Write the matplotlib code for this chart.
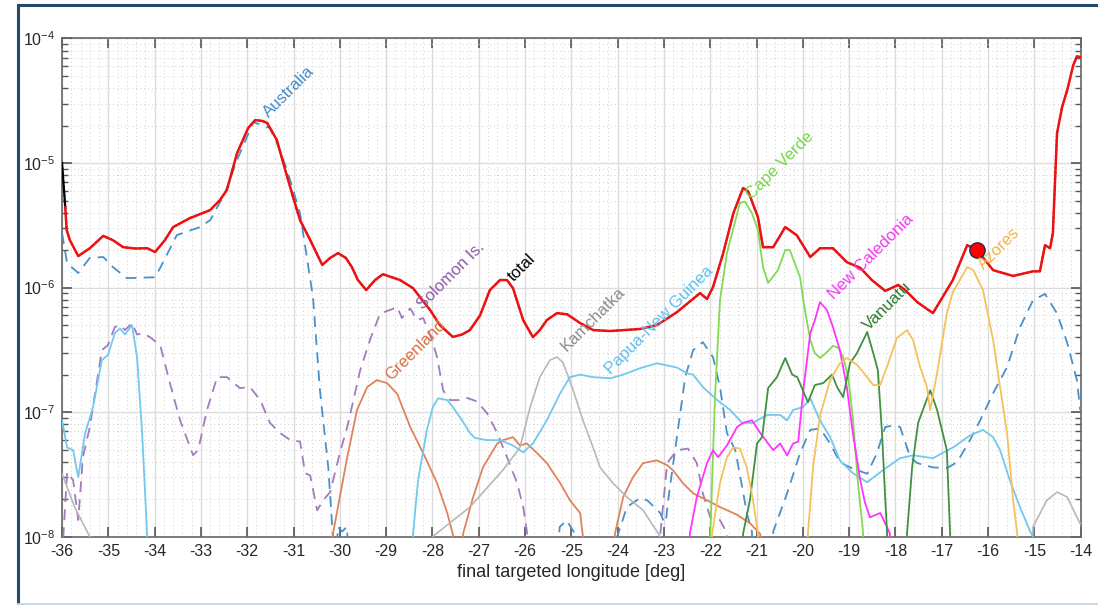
import matplotlib
matplotlib.use("Agg")
import matplotlib.pyplot as plt
from matplotlib.lines import Line2D
from matplotlib.ticker import LogLocator, MultipleLocator, NullFormatter

plt.rcParams['font.family'] = ['Liberation Sans', 'DejaVu Sans']
plt.rcParams['mathtext.fontset'] = 'custom'
plt.rcParams['mathtext.rm'] = 'Liberation Sans'
plt.rcParams['mathtext.it'] = 'Liberation Sans:italic'
plt.rcParams['mathtext.bf'] = 'Liberation Sans:bold'

# ---------------- data ----------------
total_x = [-36.00, -35.93, -35.90, -35.83, -35.65, -35.40, -35.11, -34.90, -34.68, -34.42, -34.16,
           -33.99, -33.78, -33.60, -33.24, -32.80, -32.59, -32.44, -32.22, -31.98, -31.83, -31.68,
           -31.57, -31.36, -31.18, -31.01, -30.86, -30.64, -30.38, -30.21, -30.04, -29.87, -29.74,
           -29.61, -29.43, -29.24, -29.07, -28.70, -28.42, -28.05, -27.84, -27.56, -27.36, -27.19,
           -26.97, -26.76, -26.54, -26.39, -26.26, -26.04, -25.83, -25.68, -25.53, -25.31, -25.09,
           -24.81, -24.53, -24.16, -23.52, -23.15, -22.72, -22.22, -22.07, -21.94, -21.72, -21.50,
           -21.29, -21.18, -20.97, -20.86, -20.64, -20.38, -20.13, -19.84, -19.63, -19.35, -19.05,
           -18.76, -18.51, -18.22, -17.94, -17.79, -17.53, -17.19, -16.76, -16.45, -16.24, -15.89,
           -15.46, -15.03, -14.88, -14.77, -14.66, -14.60, -14.51, -14.40, -14.29, -14.16, -14.08,
           -14.01]
total_y = [1.0e-5, 4.4e-6, 2.9e-6, 2.4e-6, 1.79e-6, 2.07e-6, 2.6e-6, 2.4e-6, 2.11e-6, 2.06e-6, 2.07e-6,
           1.93e-6, 2.4e-6, 3.06e-6, 3.61e-6, 4.19e-6, 5.04e-6, 6.07e-6, 1.2e-5, 1.91e-5, 2.21e-5, 2.18e-5,
           2.1e-5, 1.53e-5, 8.8e-6, 5.33e-6, 3.48e-6, 2.41e-6, 1.52e-6, 1.73e-6, 1.89e-6, 1.73e-6, 1.46e-6,
           1.15e-6, 9.55e-7, 1.15e-6, 1.28e-6, 1.15e-6, 9.9e-7, 6.6e-7, 5.0e-7, 4.02e-7, 4.2e-7, 4.56e-7,
           6.0e-7, 9.55e-7, 1.15e-6, 1.15e-6, 9.9e-7, 5.48e-7, 4.0e-7, 4.56e-7, 5.48e-7, 6.24e-7, 6.1e-7,
           5.19e-7, 4.56e-7, 4.48e-7, 4.65e-7, 5.0e-7, 6.35e-7, 9.03e-7, 8.1e-7, 1.01e-6, 1.89e-6, 3.96e-6,
           6.3e-6, 5.9e-6, 3.68e-6, 2.11e-6, 2.11e-6, 3.06e-6, 2.63e-6, 1.76e-6, 2.07e-6, 2.07e-6, 1.6e-6,
           1.44e-6, 1.15e-6, 9.4e-7, 1.05e-6, 9.55e-7, 7.65e-7, 6.24e-7, 1.15e-6, 2.19e-6, 2.0e-6, 1.38e-6,
           1.24e-6, 1.35e-6, 1.35e-6, 2.19e-6, 2.07e-6, 2.74e-6, 1.74e-5, 2.82e-5, 3.85e-5, 6.1e-5, 7.2e-5,
           7.1e-5]

australia_x = [-36.00, -35.89, -35.65, -35.40, -35.11, -34.90, -34.60, -33.99, -33.88, -33.52, -33.02,
               -32.80, -32.48, -32.22, -31.87, -31.66, -31.51, -31.36, -31.14, -30.86, -30.58, -30.43,
               -30.25, -30.15, -30.10, -30.04, -29.95, -29.85, -29.78,
               -25.35, -25.25, -25.10, -24.95, -24.88,
               -24.05, -24.01, -23.80, -23.52, -23.36, -23.08, -23.02, -22.96, -22.91, -22.76, -22.54,
               -22.37, -22.16, -21.94, -21.79, -21.64, -21.46, -21.31, -21.21, -21.10, -21.02,
               -20.70, -20.64, -20.34, -20.06, -19.84, -19.63, -19.41, -19.20, -18.98, -18.61, -18.40,
               -18.22, -18.05, -17.90, -17.68, -17.53, -17.19, -16.89, -16.67, -16.39, -16.17, -15.89,
               -15.59, -15.31, -15.03, -14.77, -14.51, -14.29, -14.08, -14.01]
australia_y = [2.74e-6, 1.57e-6, 1.31e-6, 1.73e-6, 1.76e-6, 1.46e-6, 1.19e-6, 1.21e-6, 1.44e-6, 2.64e-6, 3.06e-6,
               3.48e-6, 5.74e-6, 1.06e-5, 2.13e-5, 2.0e-5, 1.91e-5, 1.45e-5, 8.8e-6, 3.96e-6, 8.4e-7, 1.5e-7,
               3.6e-8, 1.0e-8, 5e-9, 1.2e-8, 1.1e-8, 1.2e-8, 5e-9,
               5e-9, 1.2e-8, 1.35e-8, 1.1e-8, 5e-9,
               5e-9, 1.0e-8, 1.73e-8, 2.04e-8, 1.96e-8, 1.55e-8, 1.37e-8, 1.3e-8, 1.96e-8, 4.95e-8, 1.91e-7,
               3.15e-7, 3.65e-7, 2.76e-7, 1.59e-7, 6.8e-8, 4.95e-8, 2.5e-8, 1.55e-8, 1.1e-8, 1e-9,
               1e-9, 1.1e-8, 2.23e-8, 4.69e-8, 7.2e-8, 7.4e-8, 5.6e-8, 3.96e-8, 3.6e-8, 3.2e-8, 4.69e-8,
               7.6e-8, 7.8e-8, 7.6e-8, 4.35e-8, 3.9e-8, 3.6e-8, 3.55e-8, 3.96e-8, 5.96e-8, 8.6e-8, 1.42e-7,
               2.3e-7, 4.8e-7, 7.9e-7, 8.9e-7, 6.2e-7, 3.6e-7, 1.8e-7, 1.04e-7]

solomon_x = [-36.02, -35.89, -35.76, -35.65, -35.55, -35.40, -35.14, -35.01, -34.86, -34.75, -34.64,
             -34.49, -34.38, -34.25, -34.10, -33.88, -33.67, -33.45, -33.17, -33.06, -32.87, -32.65,
             -32.44, -32.16, -31.94, -31.72, -31.51, -31.29, -31.08, -30.86, -30.75, -30.64, -30.49,
             -30.36, -30.21, -30.00, -29.84, -29.56, -29.35, -29.13, -28.92, -28.76, -28.66, -28.48,
             -28.33, -28.20, -28.01, -27.90, -27.77, -27.62, -27.40, -27.25, -27.04, -26.82, -26.60,
             -26.39, -26.17, -26.04, -25.96, -25.89,
             -23.13, -23.08, -22.93, -22.72, -22.48, -22.29, -22.16, -22.00, -21.79, -21.64, -21.57]
solomon_y = [5e-9, 3.3e-8, 2.84e-8, 1.36e-8, 4.35e-8, 7.6e-8, 3.15e-7, 3.45e-7, 4.82e-7, 5.0e-7, 4.56e-7,
             5.19e-7, 4.2e-7, 4.3e-7, 4.0e-7, 3.45e-7, 1.71e-7, 8.6e-8, 4.52e-8, 4.95e-8, 1.04e-7, 1.91e-7,
             1.91e-7, 1.56e-7, 1.59e-7, 1.25e-7, 8.2e-8, 6.8e-8, 6.0e-8, 5.8e-8, 3.24e-8, 3.1e-8, 1.63e-8,
             1.96e-8, 2.28e-8, 4.69e-8, 7.6e-8, 2.17e-7, 3.79e-7, 6.2e-7, 6.6e-7, 6.97e-7, 5.7e-7, 6.8e-7,
             5.48e-7, 5.7e-7, 3.79e-7, 2.77e-7, 1.5e-7, 1.25e-7, 1.25e-7, 1.3e-7, 1.22e-7, 9.8e-8, 6.8e-8,
             4.35e-8, 2.69e-8, 1.73e-8, 1.1e-8, 1e-9,
             1e-9, 1.03e-8, 3.9e-8, 4.95e-8, 5.1e-8, 3.9e-8, 2.23e-8, 1.43e-8, 1.36e-8, 1.07e-8, 1e-9]

greenland_x = [-30.22, -30.15, -29.84, -29.63, -29.41, -29.20, -28.98, -28.76, -28.48, -28.20, -27.90,
               -27.68, -27.56, -27.50,
               -27.40, -27.34, -27.12, -26.91, -26.60, -26.48, -26.26, -26.11, -25.96, -25.74, -25.53,
               -25.24, -25.03, -24.81, -24.75, -24.70,
               -24.10, -24.06, -23.88, -23.67, -23.45, -23.15, -22.93, -22.80, -22.59, -22.37, -22.07,
               -21.79, -21.42, -21.14, -20.92, -20.85]
greenland_y = [1e-9, 1.05e-8, 4.35e-8, 1.04e-7, 1.59e-7, 1.81e-7, 1.71e-7, 1.4e-7, 7.6e-8, 4.69e-8, 2.69e-8,
               1.55e-8, 1.05e-8, 1e-9,
               1e-9, 1.05e-8, 2.08e-8, 3.6e-8, 5.6e-8, 5.96e-8, 6.3e-8, 5.4e-8, 5.6e-8, 4.69e-8, 3.9e-8,
               2.69e-8, 1.96e-8, 1.55e-8, 1.0e-8, 1e-9,
               1e-9, 1.05e-8, 2.08e-8, 3.0e-8, 3.9e-8, 4.1e-8, 3.75e-8, 3.4e-8, 2.69e-8, 2.23e-8, 1.96e-8,
               1.73e-8, 1.5e-8, 1.28e-8, 1.05e-8, 1e-9]

kamchatka_x = [-36.00, -35.72, -35.40, -35.30,
               -28.05, -28.00, -27.19, -26.48, -26.11, -25.89, -25.68, -25.46, -25.31, -25.18, -24.96,
               -24.75, -24.53, -24.38, -24.10, -23.80, -23.45, -23.15, -23.08, -23.00,
               -15.08, -15.03, -14.73, -14.51, -14.29, -14.08, -14.01]
kamchatka_y = [3.2e-8, 1.7e-8, 1.0e-8, 1e-9,
               1e-9, 1.0e-8, 1.73e-8, 3.42e-8, 5.2e-8, 1.1e-7, 1.91e-7, 2.62e-7, 2.77e-7, 2.5e-7, 1.5e-7,
               8.6e-8, 5.2e-8, 3.6e-8, 2.69e-8, 2.08e-8, 1.63e-8, 1.1e-8, 1.0e-8, 1e-9,
               1e-9, 1.2e-8, 1.96e-8, 2.28e-8, 2.08e-8, 1.43e-8, 1.28e-8]

png_x = [-36.00, -35.89, -35.76, -35.65, -35.50, -35.33, -35.14, -35.01, -34.86, -34.75, -34.64,
         -34.49, -34.38, -34.27, -34.16, -34.10,
         -28.47, -28.42, -28.31, -28.12, -27.99, -27.88, -27.68, -27.56, -27.36, -27.19, -27.08,
         -26.82, -26.54, -26.26, -26.04, -25.83, -25.53, -25.24, -25.03, -24.81, -24.53, -24.16,
         -23.88, -23.52, -23.15, -22.93, -22.72, -22.50, -22.37, -22.16, -21.85, -21.57, -21.31,
         -21.08, -20.77, -20.49, -20.34, -20.21, -19.99, -19.84, -19.63, -19.41, -19.20, -18.92,
         -18.61, -18.27, -17.90, -17.62, -17.19, -16.76, -16.39, -16.11, -15.89, -15.74, -15.53,
         -15.31, -15.09, -15.03, -14.95]
png_y = [8.6e-8, 5.2e-8, 4.95e-8, 3.0e-8, 6.8e-8, 1.1e-7, 2.62e-7, 2.87e-7, 4.3e-7, 4.7e-7, 4.2e-7,
         5.0e-7, 2.77e-7, 6.8e-8, 1.0e-8, 1e-9,
         1e-9, 1.05e-8, 2.84e-8, 7.2e-8, 1.1e-7, 1.29e-7, 1.25e-7, 1.1e-7, 8.6e-8, 6.8e-8, 6.2e-8,
         5.96e-8, 5.96e-8, 5.4e-8, 4.75e-8, 5.6e-8, 8.6e-8, 1.42e-7, 1.91e-7, 2.0e-7, 1.91e-7, 1.87e-7,
         2.0e-7, 2.25e-7, 2.47e-7, 2.37e-7, 2.28e-7, 2.05e-7, 2.0e-7, 1.59e-7, 1.25e-7, 1.04e-7, 8.2e-8,
         8.2e-8, 9.5e-8, 9.5e-8, 8.6e-8, 1.04e-7, 1.1e-7, 1.29e-7, 8.6e-8, 6.3e-8, 4.1e-8, 3.24e-8,
         2.74e-8, 3.42e-8, 4.27e-8, 4.5e-8, 4.27e-8, 5.2e-8, 6.5e-8, 7.2e-8, 6.3e-8, 4.95e-8, 2.84e-8,
         1.73e-8, 1.1e-8, 1.0e-8, 1e-9]

capeverde_x = [-22.05, -22.00, -21.90, -21.79, -21.64, -21.51, -21.36, -21.25, -21.10, -20.97, -20.86,
               -20.75, -20.54, -20.38, -20.28, -20.06, -19.99, -19.84, -19.74, -19.63, -19.48, -19.35,
               -19.24, -19.13, -19.02, -18.92, -18.81, -18.70, -18.65]
capeverde_y = [1e-9, 1.0e-8, 1.25e-7, 7.9e-7, 1.89e-6, 2.9e-6, 4.78e-6, 4.9e-6, 3.96e-6, 2.9e-6, 1.46e-6,
               1.09e-6, 1.38e-6, 2.0e-6, 2.0e-6, 1.21e-6, 7.9e-7, 3.79e-7, 2.98e-7, 2.72e-7, 3.03e-7, 3.4e-7,
               3.3e-7, 2.77e-7, 1.91e-7, 9.1e-8, 2.69e-8, 1.1e-8, 1e-9]

newcal_x = [-22.50, -22.44, -22.29, -22.07, -21.94, -21.83, -21.64, -21.42, -21.29, -21.10, -20.92,
            -20.64, -20.49, -20.34, -20.21, -20.10, -19.99, -19.84, -19.74, -19.63, -19.48, -19.35,
            -19.20, -19.05, -18.92, -18.76, -18.66, -18.55, -18.33, -18.22, -18.12, -18.05]
newcal_y = [1e-9, 1.06e-8, 2.08e-8, 3.9e-8, 4.95e-8, 4.35e-8, 5.4e-8, 7.6e-8, 8.2e-8, 8.6e-8, 6.8e-8,
            4.95e-8, 5.6e-8, 4.5e-8, 5.6e-8, 5.8e-8, 1.5e-7, 4.3e-7, 5.48e-7, 7.65e-7, 6.6e-7, 4.82e-7,
            3.15e-7, 1.59e-7, 6.8e-8, 2.84e-8, 1.89e-8, 1.43e-8, 1.55e-8, 1.28e-8, 1.06e-8, 1e-9]

vanuatu_x = [-21.33, -21.29, -21.14, -20.99, -20.88, -20.75, -20.56, -20.38, -20.23, -20.12, -19.89,
             -19.74, -19.56, -19.37, -19.26, -19.13, -18.98, -18.83, -18.61, -18.48, -18.38, -18.29,
             -18.22, -18.18, -18.15,
             -17.80, -17.75, -17.64, -17.51, -17.25, -17.10, -16.89, -16.82, -16.78]
vanuatu_y = [1e-9, 1.06e-8, 2.0e-8, 5.6e-8, 6.3e-8, 1.56e-7, 1.91e-7, 2.72e-7, 2.0e-7, 1.91e-7, 1.2e-7,
             1.65e-7, 1.71e-7, 2.0e-7, 1.59e-7, 1.32e-7, 2.48e-7, 2.98e-7, 4.4e-7, 2.98e-7, 2.17e-7, 6.8e-8,
             2.0e-8, 1.06e-8, 1e-9,
             1e-9, 1.06e-8, 3.6e-8, 8.2e-8, 1.5e-7, 1.04e-7, 4.95e-8, 1.06e-8, 1e-9]

azores_x = [-22.00, -21.96, -21.79, -21.64, -21.51, -21.36, -21.21, -21.08, -20.97, -20.90,
            -19.95, -19.89, -19.78, -19.63, -19.41, -19.20, -19.05, -18.83, -18.61, -18.48, -18.33,
            -18.18, -17.97, -17.75, -17.62, -17.47, -17.32, -17.25, -17.10, -16.89, -16.76, -16.61,
            -16.45, -16.32, -16.11, -15.89, -15.74, -15.59, -15.46, -15.37, -15.30]
azores_y = [1e-9, 1.06e-8, 2.69e-8, 4.35e-8, 5.2e-8, 5.1e-8, 3.6e-8, 2.0e-8, 1.06e-8, 1e-9,
            1e-9, 1.06e-8, 3.6e-8, 9.3e-8, 1.81e-7, 2.47e-7, 2.72e-7, 2.4e-7, 1.91e-7, 1.65e-7, 1.65e-7,
            2.32e-7, 3.93e-7, 4.56e-7, 3.79e-7, 2.32e-7, 1.59e-7, 1.04e-7, 2.07e-7, 6.24e-7, 9.2e-7, 1.15e-6,
            1.46e-6, 1.38e-6, 9.55e-7, 3.79e-7, 1.59e-7, 6.8e-8, 2.0e-8, 1.06e-8, 1e-9]

marker_x = [-16.24]
marker_y = [2.0e-6]

label_text = ['Australia', 'Solomon Is.', 'total', 'Greenland', 'Kamchatka', 'Papua-New Guinea',
              'Cape Verde', 'New Caledonia', 'Vanuatu', 'Azores']
label_x = [-31.52, -28.20, -26.24, -28.89, -25.11, -24.14, -21.10, -19.33, -18.57, -16.09]
label_y = [2.3e-5, 6.6e-7, 1.1e-6, 1.77e-7, 3.03e-7, 1.98e-7, 5.04e-6, 7.9e-7, 4.48e-7, 1.38e-6]

x_ticks = list(range(-36, -13))

# ---------------- styles ----------------
c_aus = '#4a90c8'
c_sol = '#a27abd'
c_gre = '#e0825a'
c_kam = '#b8b8b8'
c_png = '#72c8ee'
c_cv = '#82da52'
c_nc = '#ff33ff'
c_van = '#418f41'
c_azo = '#f4c25c'
label_colors = ['#3f8ccc', '#8e5aa8', '#000000', '#d9703f', '#8c8c8c', '#5cbfee',
                '#7ad44a', '#f03cf0', '#2f7a2f', '#f0b448']

fig = plt.figure(figsize=(10.98, 6.05), dpi=100)
ax = fig.add_axes([0.0565, 0.1129, 0.9277, 0.8235])

ax.plot(australia_x, australia_y, color=c_aus, lw=1.3, ls=(0, (6, 4)), zorder=3)
ax.plot(solomon_x, solomon_y, color=c_sol, lw=1.3, ls=(0, (6, 4)), zorder=3)
ax.plot(greenland_x, greenland_y, color=c_gre, lw=1.3, zorder=3)
ax.plot(kamchatka_x, kamchatka_y, color=c_kam, lw=1.2, zorder=3)
ax.plot(png_x, png_y, color=c_png, lw=1.3, zorder=3)
ax.plot(capeverde_x, capeverde_y, color=c_cv, lw=1.3, zorder=3)
ax.plot(newcal_x, newcal_y, color=c_nc, lw=1.3, zorder=3)
ax.plot(vanuatu_x, vanuatu_y, color=c_van, lw=1.3, zorder=3)
ax.plot(azores_x, azores_y, color=c_azo, lw=1.3, zorder=3)
ax.plot(total_x, total_y, color='black', lw=1.3, ls=(0, (1, 1.5)), zorder=4)
ax.plot(total_x[:2], total_y[:2], color='black', lw=1.6, zorder=4)
ax.plot(total_x[1:], total_y[1:], color='#ee1111', lw=1.8, zorder=5)
ax.plot(marker_x, marker_y, marker='o', ms=11, mfc='#ff0000', mec='#1c2a55', mew=1.0,
        ls='none', zorder=6)

for t, x, y, c in zip(label_text, label_x, label_y, label_colors):
    ax.text(x, y, t, color=c, fontsize=12, rotation=45, rotation_mode='anchor',
            ha='left', va='baseline', zorder=7)

ax.set_yscale('log')
ax.set_xlim(-36, -14)
ax.set_ylim(1e-8, 1e-4)
ax.set_xticks(x_ticks)
ax.set_xticklabels([str(v) for v in x_ticks])
ax.xaxis.set_minor_locator(MultipleLocator(0.2))
ax.yaxis.set_major_locator(LogLocator(base=10, numticks=10))
ax.yaxis.set_minor_locator(LogLocator(base=10, subs=range(2, 10), numticks=20))
ax.yaxis.set_minor_formatter(NullFormatter())

ax.grid(True, which='major', color='#dcdcdc', lw=1.0, ls='-', zorder=0)
ax.grid(True, which='minor', color='#d0d0d0', lw=0.7, ls=(0, (1, 3)), zorder=0)
ax.set_axisbelow(True)

ax.tick_params(which='major', direction='in', length=7, width=1.2, color='#555555',
               top=True, right=True, labelsize=11.5, labelcolor='#262626', pad=5)
ax.tick_params(axis='x', which='minor', length=0, top=False, bottom=False)
ax.tick_params(axis='y', which='minor', direction='in', length=4, width=1.0, color='#555555',
               left=True, right=True)
for s in ax.spines.values():
    s.set_color('#666666')
    s.set_linewidth(1.2)

ax.set_xlabel('final targeted longitude [deg]', fontsize=13, color='#262626', labelpad=4)

# figure frame
W, H = 1098.0, 605.0
fig.add_artist(Line2D([18 / W, 1.0], [1 - 5 / H, 1 - 5 / H], color='#24496b', lw=2.2,
                      transform=fig.transFigure))
fig.add_artist(Line2D([18 / W, 18 / W], [1 - 5 / H, 2 / H], color='#24496b', lw=2.2,
                      transform=fig.transFigure))
fig.add_artist(Line2D([18 / W, 1.0], [1.5 / H, 1.5 / H], color='#c9d5e2', lw=2.0,
                      transform=fig.transFigure))

fig.savefig('out.png', dpi=100)
